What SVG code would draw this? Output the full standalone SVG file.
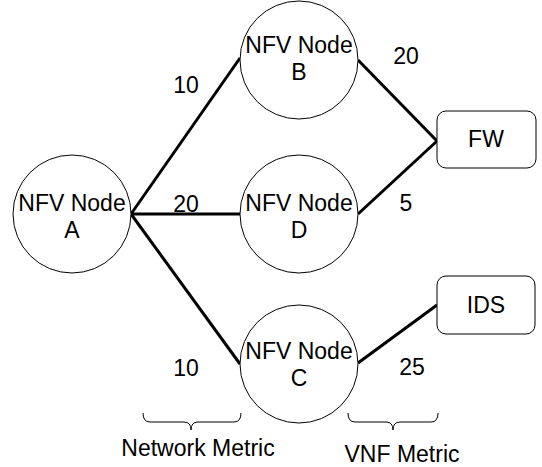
<svg xmlns="http://www.w3.org/2000/svg" width="542" height="467" viewBox="0 0 542 467">
<style>
text{font-family:"Liberation Sans",Arial,sans-serif;font-size:23px;fill:#000;text-anchor:middle}
.node circle,.node rect{fill:#fff;stroke:#000;stroke-width:1}
.edge{stroke:#000;stroke-width:3;fill:none}
.brace{stroke:#000;stroke-width:1;fill:none}
</style>
<rect width="542" height="467" fill="#fff"/>
<g id="connectors">
<line class="edge" x1="131" y1="214" x2="240" y2="58"/>
<line class="edge" x1="131" y1="214" x2="240" y2="214"/>
<line class="edge" x1="131" y1="214" x2="240" y2="364"/>
<line class="edge" x1="358" y1="60" x2="437" y2="141"/>
<line class="edge" x1="358" y1="214" x2="437" y2="141"/>
<line class="edge" x1="358" y1="363" x2="437" y2="305"/>
</g>
<g id="nodeA" class="node"><circle cx="72" cy="214" r="59"/><text x="72" y="211">NFV Node</text><text x="72" y="238">A</text></g>
<g id="nodeB" class="node"><circle cx="299" cy="60" r="59"/><text x="299" y="53">NFV Node</text><text x="299" y="80">B</text></g>
<g id="nodeD" class="node"><circle cx="299" cy="214" r="59"/><text x="299" y="211">NFV Node</text><text x="299" y="238">D</text></g>
<g id="nodeC" class="node"><circle cx="299" cy="364" r="59"/><text x="299" y="359">NFV Node</text><text x="299" y="386">C</text></g>
<g id="FW" class="node"><rect x="437" y="111" width="99" height="57" rx="9"/><text x="486" y="147">FW</text></g>
<g id="IDS" class="node"><rect x="437" y="276" width="98" height="58" rx="9"/><text x="486" y="313">IDS</text></g>
<g id="labels">
<text x="186" y="93">10</text>
<text x="186" y="212">20</text>
<text x="186" y="376">10</text>
<text x="406" y="64">20</text>
<text x="406" y="211">5</text>
<text x="412" y="375">25</text>
</g>
<g id="braces">
<path class="brace" d="M143,413 Q143,422 150,422 L184,422 Q191,422 191,430 Q191,422 198,422 L234,422 Q241,422 241,413"/>
<path class="brace" d="M348,413 Q348,422 355,422 L386,422 Q393,422 393,430 Q393,422 400,422 L431,422 Q438,422 438,413"/>
</g>
<text x="198" y="456">Network Metric</text>
<text x="402" y="462">VNF Metric</text>
</svg>
